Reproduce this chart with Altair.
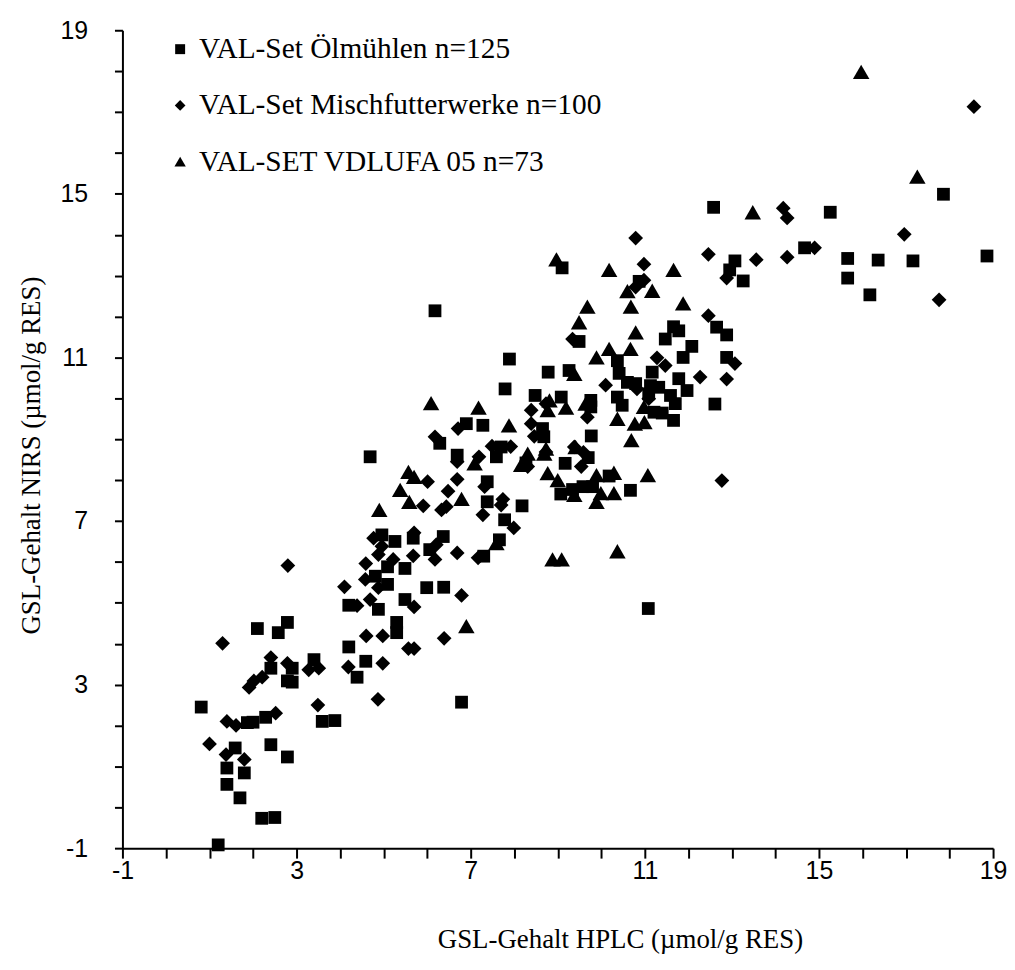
import altair as alt
import pandas as pd

# ---- data ----
series_names = ["VAL-Set Ölmühlen n=125",
                "VAL-Set Mischfutterwerke n=100",
                "VAL-SET VDLUFA 05 n=73"]

oel_x = [4.20, 4.88, 2.10, 2.79, 2.58, 4.20, 4.59, 4.39, 2.41, 2.90, 2.79, 2.90, 3.40, 0.81,
         3.59, 3.88, 1.87, 2.00, 2.29, 1.59, 2.41, 2.79, 1.40, 1.80, 1.40, 1.70, 2.20, 2.50,
         1.20, 6.90, 7.28, 8.65, 8.68, 6.29, 4.69, 7.59, 7.70, 6.69, 8.27, 9.17, 9.07, 9.34,
         9.58, 7.38, 7.38, 8.18, 7.78, 4.96, 5.26, 5.68, 6.37, 6.06, 7.66, 7.30, 5.09, 5.49,
         4.81, 5.09, 5.99, 6.38, 5.49, 5.30, 5.30, 6.79, 6.18, 9.49, 7.89, 8.78, 9.26, 7.79,
         8.48, 9.08, 9.76, 9.77, 9.70, 9.10, 13.07, 13.26, 12.95, 10.87, 12.65, 12.88, 11.66,
         11.78, 11.47, 12.08, 10.37, 11.88, 12.88, 10.41, 11.17, 11.78, 10.60, 10.79, 11.13,
         11.32, 11.97, 11.59, 11.70, 11.09, 9.76, 10.37, 10.48, 11.21, 11.40, 12.61, 11.66,
         10.18, 10.67, 9.80, 11.08, 12.58, 15.26, 14.67, 15.66, 16.36, 17.16, 18.86, 15.66,
         16.17, 17.86]
oel_y = [4.94, 4.84, 4.37, 4.52, 4.27, 3.92, 3.57, 3.18, 3.40, 3.40, 3.09, 3.06, 3.61, 2.45,
         2.10, 2.12, 2.07, 2.08, 2.20, 1.45, 1.53, 1.23, 0.96, 0.84, 0.56, 0.23, -0.27, -0.25,
         -0.92, 9.38, 9.34, 9.26, 9.06, 8.90, 8.57, 8.57, 8.81, 8.61, 8.42, 8.41, 7.66, 7.77,
         7.84, 7.96, 7.47, 7.37, 7.03, 6.66, 6.50, 6.58, 6.62, 6.30, 6.54, 6.14, 5.88, 5.84,
         5.65, 5.45, 5.37, 5.38, 5.08, 4.52, 4.27, 2.57, 12.14, 11.39, 10.96, 10.64, 10.68,
         10.23, 10.07, 10.03, 9.95, 9.08, 8.55, 13.19, 13.36, 12.87, 13.14, 12.86, 11.74,
         11.55, 11.75, 11.65, 11.45, 11.27, 10.92, 11.00, 11.00, 10.61, 10.64, 10.48, 10.39,
         10.36, 10.31, 10.27, 10.19, 10.07, 9.87, 10.11, 9.79, 10.03, 9.83, 9.66, 9.64, 9.86,
         9.46, 8.10, 7.75, 7.84, 4.86, 14.67, 14.55, 13.68, 13.42, 13.38, 13.36, 13.48, 12.94,
         12.53, 14.99]

misch_x = [4.10, 4.39, 4.69, 1.30, 4.60, 4.19, 2.41, 2.79, 3.28, 3.51, 2.21, 2.02, 1.91, 4.87,
           3.49, 1.40, 1.61, 2.52, 1.00, 1.38, 1.80, 2.80, 6.71, 8.39, 8.46, 6.18, 7.49, 7.92,
           6.69, 7.19, 8.31, 9.54, 6.01, 6.69, 6.48, 7.32, 5.91, 6.33, 6.44, 7.28, 7.74, 7.70,
           7.99, 4.77, 4.96, 4.88, 5.70, 6.21, 6.18, 5.68, 6.69, 7.17, 4.59, 5.22, 4.58, 4.88,
           6.79, 5.70, 4.98, 6.39, 5.57, 5.70, 4.98, 9.34, 10.10, 8.73, 8.39, 9.68, 8.73, 9.59,
           10.98, 12.46, 12.88, 13.56, 10.79, 12.46, 11.28, 11.47, 13.07, 12.27, 12.88, 10.82,
           11.09, 9.38, 12.77, 10.79, 10.98, 14.18, 14.27, 16.96, 14.90, 14.27, 17.76, 18.56]
misch_y = [5.39, 4.93, 5.08, 4.01, 4.19, 3.43, 3.66, 3.52, 3.36, 3.40, 3.18, 3.09, 2.93, 2.64,
           2.50, 2.10, 2.00, 2.30, 1.55, 1.29, 1.17, 5.91, 9.26, 9.38, 9.07, 9.06, 8.83, 8.82,
           8.45, 8.57, 8.33, 8.33, 7.96, 8.02, 7.73, 7.84, 7.37, 7.27, 7.35, 7.15, 7.53, 7.39,
           6.83, 6.58, 6.38, 6.18, 6.71, 6.42, 6.06, 6.15, 6.22, 6.10, 5.96, 6.06, 5.57, 5.37,
           5.18, 4.90, 4.19, 4.13, 3.88, 3.88, 3.52, 11.45, 10.32, 9.87, 9.71, 9.54, 8.69, 8.68,
           13.28, 13.52, 12.94, 13.39, 12.72, 12.02, 10.99, 10.80, 10.85, 10.52, 10.47, 10.23,
           9.99, 8.81, 7.99, 13.92, 12.89, 14.65, 14.41, 14.01, 13.68, 13.45, 12.41, 17.13]

vdl_x = [7.88, 7.09, 8.31, 8.16, 8.73, 8.69, 9.41, 8.77, 9.00, 9.38, 5.57, 5.70, 5.38, 5.59,
         6.79, 4.90, 7.59, 8.88, 9.09, 6.90, 9.68, 9.49, 10.18, 9.89, 9.38, 6.09, 8.81, 9.19,
         8.77, 7.18, 10.18, 11.66, 10.60, 11.17, 10.68, 11.88, 10.79, 10.67, 9.64, 10.37,
         10.98, 10.77, 10.99, 10.69, 9.89, 10.29, 11.07, 9.99, 10.29, 9.89, 10.37, 8.97, 13.48,
         15.97, 17.26]
vdl_y = [9.34, 8.41, 8.65, 8.37, 8.77, 8.65, 8.81, 8.17, 8.00, 7.64, 8.20, 8.08, 7.76, 7.47,
         7.54, 7.27, 6.46, 6.06, 6.06, 4.43, 12.24, 11.86, 11.21, 11.00, 10.60, 9.88, 9.95,
         9.77, 9.71, 9.77, 13.14, 13.14, 12.62, 12.63, 12.24, 12.32, 11.61, 11.21, 9.87, 9.50,
         9.79, 9.38, 9.42, 8.98, 8.12, 8.18, 8.12, 7.68, 7.68, 7.47, 6.26, 13.40, 14.55, 17.98,
         15.42]

tick_values = list(range(-1, 20))

rows = []
for name, xs, ys in [(series_names[0], oel_x, oel_y),
                     (series_names[1], misch_x, misch_y),
                     (series_names[2], vdl_x, vdl_y)]:
    for xv, yv in zip(xs, ys):
        rows.append({"series": name, "hplc": xv, "nirs": yv})
df = pd.DataFrame(rows)
legend_df = pd.DataFrame({"series": series_names})

label_expr = "(datum.value + 1) % 4 == 0 ? '' + datum.value : ''"

axis_common = dict(
    grid=False, domainColor="black", domainWidth=2, tickColor="black", tickWidth=2,
    labelFont="Liberation Sans", labelFontSize=25, labelColor="black",
    titleFont="Liberation Serif", titleFontSize=27, titleFontWeight="normal",
    titleColor="black", labelFlush=False, labelOverlap=False, values=tick_values,
    labelExpr=label_expr,
)

shape_scale = alt.Scale(domain=series_names, range=["square", "diamond", "triangle-up"])

points = alt.Chart(df).mark_point(filled=True, opacity=1, color="black").encode(
    x=alt.X("hplc:Q",
            scale=alt.Scale(domain=[-1, 19], nice=False, zero=False),
            axis=alt.Axis(title="GSL-Gehalt HPLC (µmol/g RES)", tickSize=10,
                          labelPadding=0, titleX=500, titleY=92,
                          titleBaseline="middle", **axis_common)),
    y=alt.Y("nirs:Q",
            scale=alt.Scale(domain=[-1, 19], nice=False, zero=False),
            axis=alt.Axis(title="GSL-Gehalt NIRS (µmol/g RES)", tickSize=8,
                          labelPadding=27, titleX=-91, titleY=427,
                          titleBaseline="middle", **axis_common)),
    shape=alt.Shape("series:N", scale=shape_scale, legend=None),
    size=alt.Size("series:N",
                  scale=alt.Scale(domain=series_names, range=[165, 275, 170]),
                  legend=None),
)

# legend rows placed by a point scale spanning the legend block
legend_y = alt.Y("series:N", sort=series_names,
                 scale=alt.Scale(type="point", domain=series_names, range=[19, 132],
                                 padding=0),
                 axis=None)

legend_symbols = alt.Chart(legend_df).mark_point(
    filled=True, opacity=1, color="black"
).encode(
    x=alt.value(58),
    y=legend_y,
    shape=alt.Shape("series:N", scale=shape_scale, legend=None),
    size=alt.Size("series:N",
                  scale=alt.Scale(domain=series_names, range=[100, 130, 110]),
                  legend=None),
)

legend_text = alt.Chart(legend_df).mark_text(
    align="left", baseline="middle", font="Liberation Serif", fontSize=29.5, color="black"
).encode(
    x=alt.value(77),
    y=legend_y,
    text="series:N",
)

chart = alt.layer(points, legend_symbols, legend_text).resolve_scale(
    y="independent", size="independent"
).properties(
    width=875, height=822, background="white",
    autosize=alt.AutoSizeParams(type="none"),
    padding={"left": 115, "top": 20, "right": 14, "bottom": 105},
).configure_view(strokeWidth=0)

chart.save("out.html", embed_options={"renderer": "svg", "actions": False})
